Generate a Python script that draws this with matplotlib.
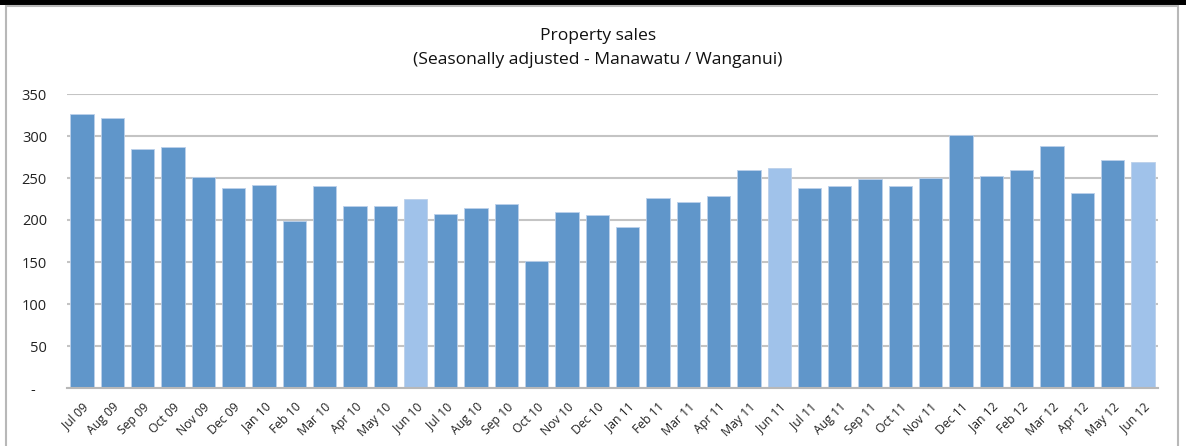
import matplotlib
matplotlib.use("Agg")
import matplotlib.pyplot as plt
from matplotlib.patches import Rectangle

months = ["Jul 09", "Aug 09", "Sep 09", "Oct 09", "Nov 09", "Dec 09", "Jan 10", "Feb 10", "Mar 10",
          "Apr 10", "May 10", "Jun 10", "Jul 10", "Aug 10", "Sep 10", "Oct 10", "Nov 10", "Dec 10",
          "Jan 11", "Feb 11", "Mar 11", "Apr 11", "May 11", "Jun 11", "Jul 11", "Aug 11", "Sep 11",
          "Oct 11", "Nov 11", "Dec 11", "Jan 12", "Feb 12", "Mar 12", "Apr 12", "May 12", "Jun 12"]
sales = [326, 322, 285, 287, 251, 238, 242, 199, 240, 217, 217, 225, 207, 214, 219, 151, 209, 206,
         192, 226, 221, 228, 259, 262, 238, 240, 249, 241, 250, 301, 252, 260, 288, 232, 271, 269]
highlight = ["Jun 10", "Jun 11", "Jun 12"]
yticks = [0, 50, 100, 150, 200, 250, 300, 350]
ytick_labels = ["-   ", "50", "100", "150", "200", "250", "300", "350"]
title = "Property sales\n(Seasonally adjusted - Manawatu / Wanganui)"

dark = "#6096CA"
light = "#A0C2EA"

W, H = 1186, 446
fig = plt.figure(figsize=(W / 100, H / 100), dpi=100)
plt.rcParams['font.family'] = ['Open Sans', 'DejaVu Sans']

# frame decorations
fig.patches.append(Rectangle((0, 1 - 5 / H), 1, 5 / H, transform=fig.transFigure,
                             facecolor="black", edgecolor="none"))
fig.patches.append(Rectangle((6 / W, -0.05), (1178 - 6) / W, (H - 6) / H + 0.05,
                             transform=fig.transFigure, facecolor="none",
                             edgecolor="#B8B8B8", linewidth=1.5))

ax = fig.add_axes([67 / W, 1 - 388 / H, (1158 - 67) / W, (388 - 94) / H])
x = list(range(len(months)))
colors = [light if m in highlight else dark for m in months]
ax.bar(x, sales, width=0.77, color=colors, edgecolor="#BBD0EA", linewidth=0.6, zorder=3)

ax.set_xlim(-0.5, len(months) - 0.5)
ax.set_ylim(0, 350)
ax.set_yticks(yticks)
ax.set_yticklabels(ytick_labels)
ax.set_xticks(x)
ax.set_xticklabels(months, rotation=45, ha="right", rotation_mode="anchor")
ax.tick_params(axis="x", length=0, pad=9, labelsize=8.8, colors="#222222")
ax.tick_params(axis="y", length=0, pad=14.4, labelsize=10.5, colors="#222222")
ax.grid(axis="y", color="#C4C4C4", linewidth=1.5, zorder=0)
for s in ["top", "right", "left"]:
    ax.spines[s].set_visible(False)
ax.spines["bottom"].set_color("#B8B8B8")
ax.spines["bottom"].set_linewidth(1.5)
ax.spines["bottom"].set_zorder(4)

fig.text(598 / W, 1 - 48 / H, title, ha="center", va="center", fontsize=12.6,
         linespacing=1.6, color="#111111")

fig.savefig("out.png", dpi=100)
